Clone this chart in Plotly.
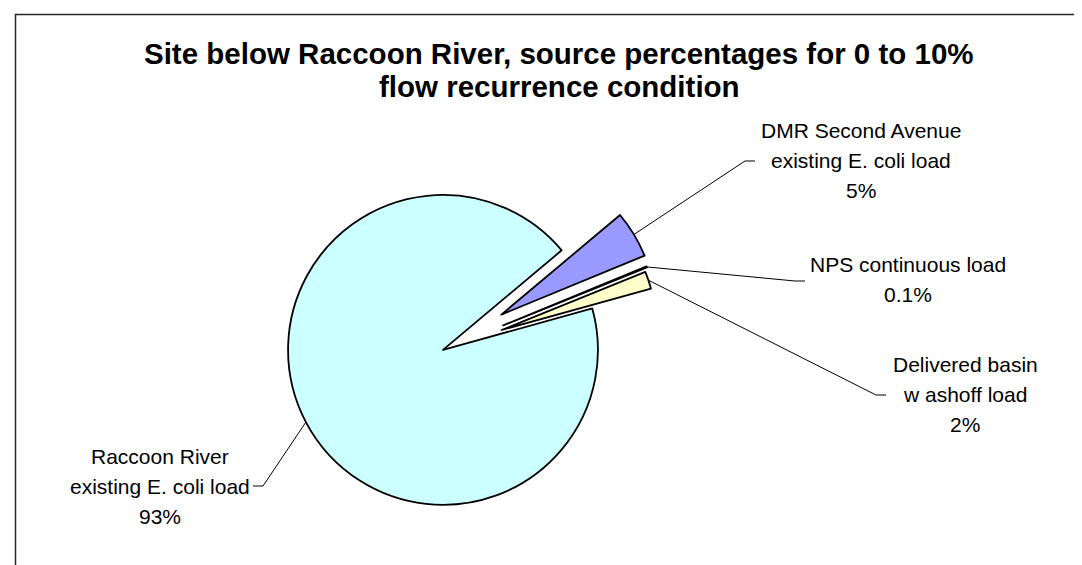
import math
import plotly.graph_objects as go

# ---------------- data ----------------
sources = [
    "DMR Second Avenue existing E. coli load",
    "NPS continuous load",
    "Delivered basin washoff load",
    "Raccoon River existing E. coli load",
]
values = [4.9, 0.1, 1.8, 93.2]
pct_text = ["5%", "0.1%", "2%", "93%"]
label_lines = [
    ["DMR Second Avenue", "existing E. coli load"],
    ["NPS continuous load"],
    ["Delivered basin", "w ashoff load"],
    ["Raccoon River", "existing E. coli load"],
]
title_lines = [
    "Site below Raccoon River, source percentages for 0 to 10%",
    "flow recurrence condition",
]

# ---------------- styles / layout ----------------
W, H = 1082, 565
colors = ["#9999FF", "#993366", "#FFFFCC", "#CCFFFF"]
pulls = [0.44, 0.42, 0.40, 0.0]
CX, CY = 435, 342          # pie centre (px)
R = 155                    # pie radius (px)
ROT = 50                   # first slice start, degrees clockwise from 12 o'clock
FONT = "Liberation Sans, Arial, sans-serif"
LINE_H = 30                # label line spacing (px)

# title line centres (px)
title_pos = [(551, 45), (551, 78.5)]
# label centres (px) and leader elbows (outer x, inner x, y) in px
label_centres = [(853, 152.5), (900, 271), (957, 386), (152, 478)]
elbows = [(747, 737, 153), (797, 787, 273), (878, 868, 387), (245, 255, 478)]

half = R * (1 + max(pulls))
dom_x = [(CX - half) / W, (CX + half) / W]
dom_y = [max(0.0, (H - CY - half) / H), min(1.0, (H - CY + half) / H)]


def to_paper(x, y):
    return x / W, 1 - y / H


total = sum(values)


def mid_angle(i):
    start = ROT + 360.0 * sum(values[:i]) / total
    return math.radians(start + 180.0 * values[i] / total)


fig = go.Figure(
    go.Pie(
        labels=sources,
        values=values,
        sort=False,
        direction="clockwise",
        rotation=ROT,
        pull=pulls,
        textinfo="none",
        textposition="none",
        hoverinfo="label+percent",
        marker=dict(colors=colors, line=dict(color="#000000", width=1.8)),
        domain=dict(x=dom_x, y=dom_y),
        showlegend=False,
    )
)

annotations = []
shapes = []

# title
for k, t in enumerate(title_lines):
    x, y = to_paper(*title_pos[k])
    annotations.append(dict(
        text="<b>%s</b>" % t, x=x, y=y, xref="paper", yref="paper",
        xanchor="center", yanchor="middle", showarrow=False,
        font=dict(family=FONT, size=29.5, color="#000000"),
    ))

# data labels + leader lines
for i in range(len(values)):
    lines = label_lines[i] + [pct_text[i]]
    cx, cy = label_centres[i]
    n = len(lines)
    for j, ln in enumerate(lines):
        ly = cy + (j - (n - 1) / 2) * LINE_H
        x, y = to_paper(cx, ly)
        annotations.append(dict(
            text=ln, x=x, y=y, xref="paper", yref="paper",
            xanchor="center", yanchor="middle", showarrow=False,
            font=dict(family=FONT, size=21, color="#000000"),
        ))
    th = mid_angle(i)
    d = R * (1 + pulls[i])
    ax, ay = CX + d * math.sin(th), CY - d * math.cos(th)
    ex0, ex1, ey = elbows[i]
    pts = [to_paper(ex0, ey), to_paper(ex1, ey), to_paper(ax, ay)]
    path = "M %f,%f L %f,%f L %f,%f" % (pts[0] + pts[1] + pts[2])
    shapes.append(dict(type="path", path=path, xref="paper", yref="paper",
                       line=dict(color="#000000", width=1)))

# chart-area border (extends past the right/bottom edges)
bx0, by1 = to_paper(7.5, 6.5)
shapes.append(dict(type="rect", xref="paper", yref="paper",
                   x0=bx0, y0=-0.1, x1=1.1, y1=by1,
                   line=dict(color="#262626", width=1.5), fillcolor="rgba(0,0,0,0)"))

fig.update_layout(
    width=W, height=H,
    margin=dict(l=0, r=0, t=0, b=0),
    paper_bgcolor="#FFFFFF", plot_bgcolor="#FFFFFF",
    annotations=annotations, shapes=shapes,
)

fig.write_html("out.html")
